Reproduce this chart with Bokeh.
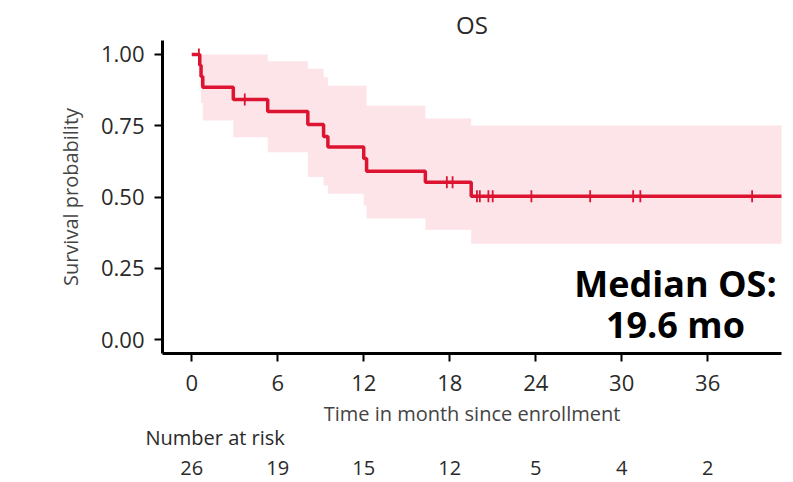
import numpy as np
from bokeh.plotting import figure
from bokeh.models import Range1d, FixedTicker, LinearAxis, Label, ColumnDataSource, Title
from bokeh.embed import file_html
from bokeh.resources import INLINE

# ---- data ----
event_times = [0.0, 0.56, 0.65, 0.77, 2.9, 5.3, 8.1, 9.2, 9.5, 12.0, 12.2, 16.3, 19.5, 41.2]
surv = [1.0, 0.962, 0.923, 0.885, 0.842, 0.800, 0.754, 0.712, 0.675, 0.635, 0.590, 0.552, 0.503, 0.503]
ci_upper = [1.0, 1.0, 1.0, 1.0, 1.0, 0.976, 0.950, 0.920, 0.890, 0.890, 0.820, 0.775, 0.751, 0.751]
ci_lower = [1.0, 0.890, 0.830, 0.768, 0.710, 0.657, 0.570, 0.540, 0.511, 0.470, 0.425, 0.385, 0.336, 0.336]
censor_times = [0.5, 3.7, 17.8, 18.2, 19.9, 20.1, 20.7, 21.0, 23.7, 27.8, 30.8, 31.3, 39.1]
risk_times = [0, 6, 12, 18, 24, 30, 36]
risk_counts = [26, 19, 15, 12, 5, 4, 2]
y_ticks = [0.0, 0.25, 0.5, 0.75, 1.0]
median_os = 19.6
title_text = "OS"
x_label = "Time in month since enrollment"
y_label = "Survival probability"
risk_title = "Number at risk"

RED = "#DC1431"
BAND = "#FDE4E9"
FONT = "Open Sans"
TXT = "#2a2a2a"

idx = np.searchsorted(np.array(event_times), np.array(censor_times), side="right") - 1
censor_surv = [surv[i] for i in idx]

p = figure(width=785, height=482, output_backend="svg", toolbar_location=None,
           x_range=Range1d(-2.04, 41.15), y_range=Range1d(-0.049, 1.049),
           min_border_left=162, min_border_right=4, min_border_top=40, min_border_bottom=129)
p.outline_line_color = None
p.grid.visible = False
p.background_fill_color = "white"
p.border_fill_color = "white"

src = ColumnDataSource(dict(x=event_times, s=surv, lo=ci_lower, hi=ci_upper))
p.varea_step(x="x", y1="lo", y2="hi", step_mode="after", source=src, fill_color=BAND)
p.step(x="x", y="s", mode="after", source=src, line_color=RED, line_width=3.5)
p.scatter(x=censor_times, y=censor_surv, marker="dash", angle=np.pi / 2, size=12,
          line_color=RED, line_width=1.8)

# title
p.title.text = title_text
p.title.align = "center"
p.title.text_font = FONT
p.title.text_font_size = "24px"
p.title.text_font_style = "normal"
p.title.text_color = TXT
p.title.standoff = 0

# axes
xa = p.xaxis[0]
xa.ticker = FixedTicker(ticks=risk_times)
xa.axis_label = x_label
ya = p.yaxis[0]
ya.ticker = FixedTicker(ticks=y_ticks)
ya.major_label_overrides = {t: f"{t:.2f}" for t in y_ticks}
ya.axis_label = y_label
for ax in (xa, ya):
    ax.axis_line_width = 3
    ax.axis_line_color = "black"
    ax.major_tick_line_width = 2
    ax.major_tick_line_color = "black"
    ax.major_tick_in = 0
    ax.major_tick_out = 8
    ax.minor_tick_line_color = None
    ax.major_label_text_font = FONT
    ax.major_label_text_font_size = "22px"
    ax.major_label_text_color = TXT
    ax.axis_label_text_font = FONT
    ax.axis_label_text_font_size = "20px"
    ax.axis_label_text_font_style = "normal"
    ax.axis_label_text_color = "#444444"
xa.major_label_standoff = 13
xa.axis_label_standoff = 6
ya.major_label_standoff = 10
ya.axis_label_standoff = 14

# number at risk heading and row
rt = Title(text=risk_title, align="left", offset=-17, standoff=-16,
           text_font=FONT, text_font_size="20px", text_font_style="normal", text_color=TXT)
ra = LinearAxis(ticker=FixedTicker(ticks=risk_times),
                major_label_overrides={t: str(n) for t, n in zip(risk_times, risk_counts)})
ra.axis_line_color = None
ra.major_tick_line_color = None
ra.minor_tick_line_color = None
ra.major_tick_out = 0
ra.major_tick_in = 0
ra.major_label_standoff = 18
ra.major_label_text_font = FONT
ra.major_label_text_font_size = "20px"
ra.major_label_text_color = TXT
p.add_layout(rt, "below")
p.add_layout(ra, "below")

# median annotation
mx = 33.75
p.add_layout(Label(x=mx, y=0.197, text="Median OS:", text_align="center",
                   text_baseline="alphabetic", text_font=FONT, text_font_size="36px",
                   text_font_style="bold", text_color="black"))
p.add_layout(Label(x=mx, y=0.051, text=f"{median_os} mo", text_align="center",
                   text_baseline="alphabetic", text_font=FONT, text_font_size="36px",
                   text_font_style="bold", text_color="black"))

open("out.html", "w").write(file_html(p, INLINE))
